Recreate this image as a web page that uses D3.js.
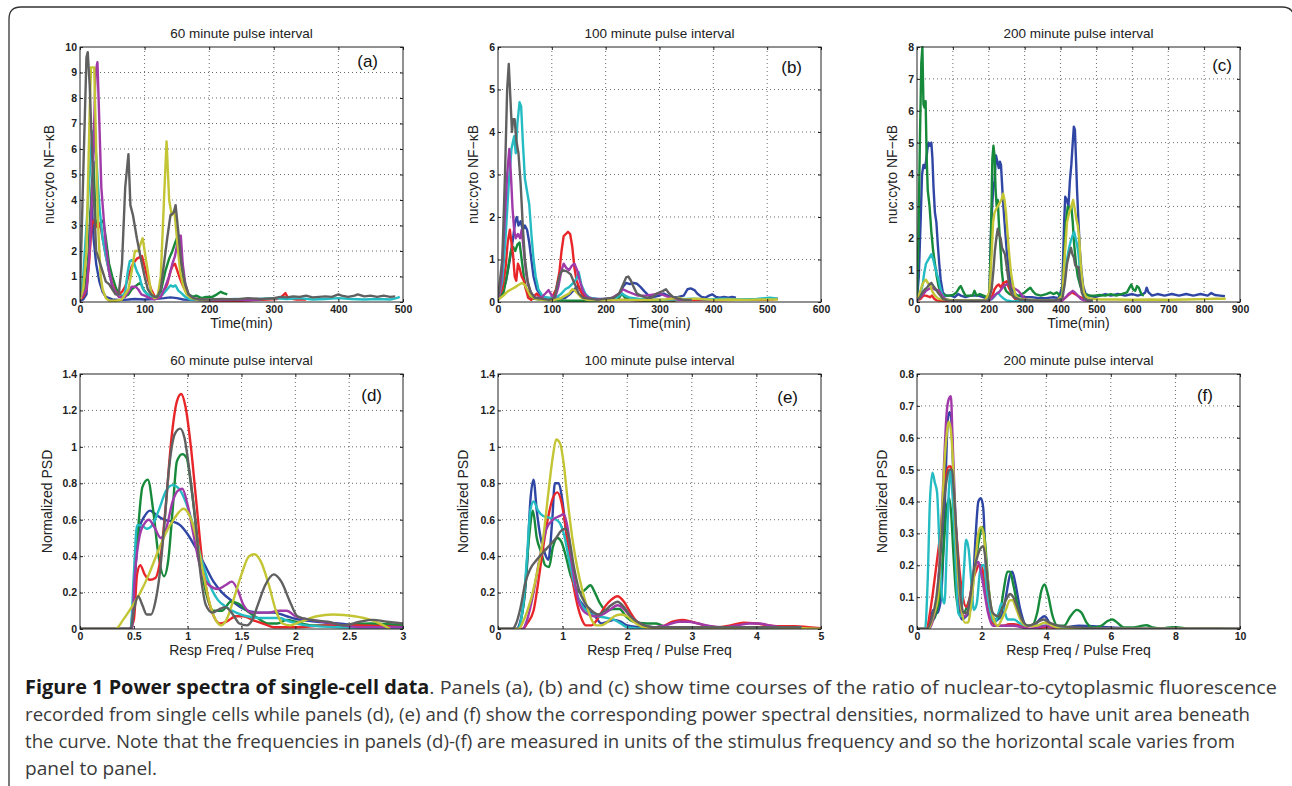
<!DOCTYPE html>
<html>
<head>
<meta charset="utf-8">
<script src="https://cdn.jsdelivr.net/npm/d3@7"></script>
<style>
  body { margin: 0; background: #fff; }
  svg { display: block; }
</style>
</head>
<body>
<svg id="fig" width="1292" height="786"></svg>
<script>
// ---- series colours (matlab-ish b g r c m y k) ----
const seriesKeys = ['b', 'g', 'r', 'c', 'm', 'y', 'k'];
const seriesColors = ['#3046a5', '#168a3a', '#e8262a', '#24bcc2', '#a03aa8', '#c3c534', '#606060'];

// ---- (a) 60 min pulse interval: [time(min), nuc:cyto] ----
const a_b = [[0,0.05],[5,0.1],[10,0.3],[13,1.5],[16,3.5],[18,3.8],[21,2.5],[25,1.5],[30,0.8],[35,0.4],[40,0.2],[50,0.1],[60,0.08],[75,0.1],[85,0.12],[100,0.1],[115,0.12],[130,0.15],[140,0.18],[150,0.15],[160,0.1],[180,0.08],[200,0.06],[220,0.05],[240,0.05]];
const a_g = [[0,0.1],[8,0.5],[14,2],[18,4.5],[21,5.5],[24,3.2],[28,3],[32,3.1],[36,3.2],[40,2.5],[45,1.5],[50,1],[55,0.6],[60,0.3],[68,0.2],[75,0.3],[80,0.5],[85,0.6],[90,0.7],[94,0.75],[98,0.5],[104,0.3],[110,0.2],[118,0.2],[125,0.4],[132,1.2],[138,1.7],[143,2],[147,2.3],[150,2.5],[153,2.6],[157,1.5],[162,0.6],[168,0.3],[175,0.2],[180,0.25],[188,0.15],[195,0.2],[205,0.2],[212,0.3],[218,0.4],[222,0.35],[228,0.3]];
const a_r = [[0,0.1],[5,0.2],[10,0.5],[14,1.5],[18,3],[21,3.2],[25,3],[28,2.9],[31,3.1],[35,2.5],[40,1.8],[45,1.2],[50,0.7],[55,0.4],[60,0.3],[65,0.4],[70,0.6],[75,1],[80,1.4],[85,1.6],[88,1.7],[92,1.75],[96,1.8],[100,1.4],[105,0.9],[110,0.5],[115,0.25],[120,0.15],[128,0.3],[135,0.7],[140,1.2],[143,1.4],[147,1.5],[151,1.2],[155,0.9],[160,0.6],[165,0.35],[170,0.2],[178,0.1],[190,0.08],[210,0.05],[230,0.05],[250,0.05],[270,0.08],[290,0.1],[305,0.12],[312,0.2],[318,0.35],[322,0.15],[335,0.1],[350,0.1]];
const a_c = [[0,0.1],[5,1],[10,3],[15,5],[19,6.7],[22,6],[25,5.8],[28,4.5],[31,3.5],[35,2.5],[40,1.8],[45,1.2],[50,0.6],[55,0.35],[60,0.25],[65,0.2],[70,0.4],[74,1.2],[77,1.6],[80,1.65],[84,1.5],[88,1.2],[92,1],[96,0.6],[100,0.4],[105,0.3],[112,0.2],[120,0.2],[128,0.3],[135,0.5],[140,0.65],[144,0.6],[148,0.65],[152,0.45],[157,0.35],[163,0.2],[170,0.1],[180,0.1],[200,0.08],[220,0.1],[240,0.12],[260,0.1],[280,0.12],[300,0.15],[320,0.12],[340,0.15],[360,0.1],[380,0.12],[400,0.15],[420,0.12],[440,0.1],[460,0.12],[480,0.1],[490,0.15],[495,0.2]];
const a_m = [[0,0.1],[10,0.5],[15,2],[20,5],[24,9],[27,9.4],[30,7],[33,4.5],[36,3.5],[40,2.2],[45,1.2],[50,0.6],[55,0.4],[60,0.2],[65,0.2],[70,0.2],[75,0.4],[80,0.6],[86,0.6],[90,0.5],[95,0.3],[100,0.25],[108,0.15],[115,0.1],[125,0.2],[132,0.6],[138,1],[143,1.5],[147,1.8],[150,2.2],[153,2.6],[156,2.6],[159,1.5],[163,0.7],[168,0.3],[175,0.15],[185,0.1],[200,0.1],[220,0.08],[240,0.1],[260,0.08],[280,0.1]];
const a_y = [[0,0.1],[5,0.5],[10,2],[15,7.5],[17,9.2],[22,9.2],[25,6],[28,3],[32,1],[35,0.5],[40,0.15],[45,0.05],[55,0.05],[65,0.1],[75,0.5],[80,1.2],[85,2],[90,2],[94,2.3],[97,2.5],[100,2],[105,1.2],[110,0.4],[115,0.15],[120,0.2],[125,1],[130,4],[134,6.3],[138,4],[142,3.4],[146,3.6],[150,2.5],[155,1.2],[160,0.6],[165,0.3],[172,0.15],[180,0.1],[190,0.08],[200,0.1]];
const a_k = [[0,0.2],[5,5],[10,9.6],[12,9.8],[15,8.5],[20,5],[25,2],[30,1.6],[35,1.2],[40,0.8],[45,0.7],[50,0.5],[55,0.3],[60,0.3],[65,1.5],[70,4.5],[75,5.8],[78,3.8],[82,3.4],[88,2.5],[95,1.6],[100,1],[105,0.5],[110,0.3],[115,0.2],[120,0.2],[125,0.5],[130,1.5],[135,2.5],[140,3.4],[145,3.5],[148,3.8],[152,2.8],[157,1.5],[162,0.8],[168,0.3],[175,0.15],[185,0.1],[200,0.1],[220,0.12],[240,0.1],[260,0.15],[280,0.12],[300,0.15],[310,0.2],[320,0.18],[330,0.22],[340,0.2],[350,0.25],[360,0.18],[370,0.2],[380,0.22],[390,0.2],[400,0.3],[405,0.25],[415,0.2],[425,0.25],[430,0.3],[440,0.22],[450,0.25],[460,0.2],[470,0.25],[480,0.2],[488,0.22]];

// ---- (b) 100 min pulse interval ----
const b_b = [[0,0.05],[8,0.2],[15,0.5],[22,1],[28,1.5],[32,1.9],[35,2],[38,1.8],[42,1.9],[46,1.7],[50,1.8],[54,1.7],[58,1.4],[62,1],[66,0.6],[72,0.3],[80,0.15],[90,0.1],[100,0.08],[115,0.08],[125,0.1],[135,0.2],[142,0.3],[148,0.38],[152,0.3],[158,0.2],[165,0.1],[180,0.08],[200,0.07],[215,0.1],[225,0.15],[232,0.35],[238,0.45],[245,0.42],[252,0.45],[258,0.43],[265,0.35],[272,0.25],[280,0.15],[290,0.12],[300,0.15],[308,0.2],[315,0.15],[325,0.1],[335,0.12],[345,0.15],[352,0.3],[358,0.32],[365,0.28],[370,0.2],[378,0.12],[385,0.1],[392,0.15],[398,0.18],[405,0.12],[412,0.1],[420,0.12],[428,0.1],[435,0.12],[442,0.1]];
const b_g = [[0,0.05],[10,0.2],[16,0.6],[20,0.9],[24,1.2],[28,1.3],[32,1.2],[36,1.35],[40,1.4],[44,1],[48,0.6],[52,0.3],[58,0.15],[65,0.08],[80,0.05],[100,0.04],[130,0.03],[160,0.03],[190,0.04],[215,0.05],[225,0.1],[230,0.2],[236,0.1],[245,0.05],[270,0.03],[300,0.03],[330,0.03]];
const b_r = [[0,0.1],[8,0.3],[14,0.8],[18,1.4],[22,1.7],[25,1.4],[28,1.1],[31,0.6],[34,0.5],[37,0.9],[40,0.8],[44,0.6],[48,0.5],[52,0.3],[56,0.1],[62,0.05],[68,0.15],[72,0.2],[78,0.1],[90,0.08],[100,0.1],[108,0.3],[114,0.7],[118,1.2],[122,1.55],[126,1.6],[130,1.65],[134,1.6],[138,1.3],[142,0.8],[146,0.5],[152,0.3],[158,0.15],[165,0.08],[180,0.05],[200,0.04],[230,0.05],[260,0.04],[290,0.05],[320,0.04],[360,0.05],[400,0.04],[440,0.05],[480,0.05],[510,0.06],[520,0.08]];
const b_c = [[0,0.05],[8,0.5],[14,1.5],[20,2.8],[25,3.6],[30,3.9],[33,3.5],[36,4.2],[40,4.7],[43,4.6],[46,3.8],[50,2.9],[54,2.6],[58,2.3],[62,1.6],[66,1],[70,0.6],[75,0.3],[82,0.15],[90,0.1],[100,0.1],[110,0.12],[118,0.2],[125,0.3],[132,0.35],[140,0.45],[146,0.55],[150,0.7],[155,0.4],[162,0.2],[170,0.1],[185,0.07],[200,0.06],[220,0.1],[230,0.2],[236,0.15],[245,0.1],[260,0.08],[280,0.06],[300,0.05],[330,0.06],[360,0.08],[390,0.06],[420,0.08],[450,0.06],[480,0.07],[505,0.1],[520,0.08]];
const b_m = [[0,0.05],[6,0.5],[12,1.8],[17,3],[21,3.6],[24,3],[27,2.2],[30,1.7],[33,1.5],[37,1.6],[41,1.5],[44,1.7],[48,1.2],[52,0.7],[56,0.4],[62,0.2],[70,0.1],[80,0.1],[88,0.2],[94,0.28],[100,0.15],[106,0.1],[112,0.35],[118,0.75],[122,0.9],[127,0.8],[132,0.75],[137,0.85],[142,0.9],[147,0.75],[152,0.5],[158,0.25],[165,0.12],[175,0.08],[190,0.06],[210,0.08],[225,0.2],[232,0.3],[240,0.25],[250,0.2],[260,0.15],[275,0.15],[290,0.18],[300,0.2],[310,0.15],[320,0.1],[335,0.06],[350,0.05]];
const b_y = [[0,0.05],[10,0.15],[18,0.25],[25,0.3],[32,0.35],[38,0.4],[45,0.45],[50,0.4],[54,0.3],[60,0.15],[68,0.08],[80,0.05],[100,0.04],[115,0.08],[125,0.15],[132,0.2],[138,0.3],[142,0.28],[148,0.2],[155,0.1],[165,0.05],[190,0.04],[220,0.05],[250,0.05],[280,0.05],[310,0.06],[335,0.1],[345,0.06],[370,0.08],[400,0.05],[430,0.06],[460,0.05],[490,0.06],[520,0.06]];
const b_k = [[0,0.1],[8,1],[13,3],[17,5],[20,5.6],[23,4.8],[26,4],[28,4.3],[31,4.3],[34,3.8],[38,3.5],[42,2.8],[46,1.8],[50,1],[55,0.5],[60,0.25],[68,0.1],[80,0.08],[95,0.05],[105,0.1],[110,0.4],[115,0.65],[120,0.75],[128,0.72],[135,0.65],[140,0.5],[145,0.35],[150,0.2],[158,0.1],[170,0.08],[185,0.05],[200,0.08],[215,0.1],[225,0.2],[232,0.4],[238,0.58],[242,0.6],[247,0.5],[252,0.35],[258,0.2],[265,0.15],[275,0.1],[285,0.1],[295,0.2],[305,0.25],[312,0.3],[318,0.2],[325,0.12],[335,0.08],[345,0.05],[360,0.05]];

// ---- (c) 200 min pulse interval ----
const c_b = [[0,0.1],[5,0.8],[10,2.5],[14,4],[18,4.3],[22,4.2],[25,4.4],[29,4.8],[32,5],[36,4.9],[40,5],[43,4.5],[46,3.6],[50,2.8],[54,2.5],[58,1.8],[62,1.2],[66,0.7],[72,0.3],[80,0.2],[95,0.2],[105,0.15],[115,0.25],[122,0.2],[135,0.15],[150,0.2],[170,0.2],[185,0.15],[195,0.12],[202,0.3],[207,2.5],[212,3.5],[216,3.8],[220,4.6],[224,4.4],[228,4.2],[231,4.4],[234,4.3],[238,3.5],[242,2.8],[246,2.2],[250,1.6],[256,1],[262,0.5],[270,0.3],[280,0.2],[300,0.15],[320,0.15],[340,0.12],[360,0.12],[380,0.15],[395,0.12],[405,0.5],[410,2.5],[413,3.3],[418,3.2],[422,3],[426,3.8],[430,4.3],[434,5],[437,5.5],[440,5.4],[443,4.5],[446,3.5],[450,2.5],[454,1.6],[458,1],[463,0.5],[470,0.25],[480,0.2],[495,0.15],[510,0.2],[525,0.25],[540,0.2],[560,0.25],[580,0.2],[600,0.25],[615,0.2],[630,0.25],[636,0.3],[640,0.45],[645,0.3],[655,0.2],[670,0.25],[690,0.2],[710,0.25],[730,0.2],[750,0.25],[770,0.2],[790,0.25],[810,0.2],[820,0.28],[830,0.22],[845,0.2],[858,0.18]];
const c_g = [[0,0.2],[4,2],[8,5],[12,7.5],[15,8],[18,6.2],[21,6.1],[24,6.3],[27,4.5],[30,3.5],[35,3],[40,2.2],[45,1.6],[50,1.2],[55,0.8],[60,0.5],[66,0.3],[72,0.25],[80,0.2],[90,0.2],[100,0.22],[110,0.3],[118,0.45],[122,0.5],[128,0.35],[135,0.2],[145,0.2],[155,0.2],[160,0.35],[166,0.2],[175,0.25],[185,0.2],[195,0.15],[202,0.2],[206,2],[210,4.5],[213,4.9],[216,4.6],[219,3.5],[222,3],[225,3.2],[228,2.5],[232,1.8],[236,1],[240,0.6],[248,0.35],[258,0.25],[270,0.2],[285,0.2],[300,0.3],[310,0.4],[316,0.45],[322,0.35],[330,0.25],[345,0.2],[360,0.25],[372,0.3],[380,0.25],[390,0.3],[398,0.2],[405,0.3],[410,1.2],[415,2.5],[420,3],[425,2.9],[430,3],[434,2.5],[438,1.8],[443,1.2],[448,0.8],[455,0.5],[462,0.3],[470,0.25],[480,0.2],[495,0.2],[510,0.22],[525,0.2],[540,0.25],[555,0.2],[570,0.25],[585,0.3],[592,0.45],[597,0.55],[602,0.4],[608,0.35],[613,0.5],[618,0.45],[625,0.25],[632,0.2]];
const c_r = [[0,0.05],[10,0.1],[18,0.2],[24,0.2],[30,0.18],[36,0.15],[42,0.2],[48,0.1],[55,0.05],[80,0.03],[150,0.03],[200,0.04],[210,0.2],[216,0.4],[222,0.5],[228,0.55],[234,0.45],[240,0.6],[246,0.62],[250,0.65],[254,0.5],[260,0.35],[266,0.2],[275,0.08],[290,0.04],[350,0.03],[405,0.05],[415,0.15],[425,0.25],[432,0.3],[440,0.25],[450,0.18],[460,0.12],[472,0.06],[490,0.02]];
const c_c = [[0,0.05],[8,0.2],[15,0.5],[20,0.9],[25,1.2],[30,1.3],[35,1.4],[40,1.5],[45,1.35],[50,1.1],[55,0.9],[60,0.7],[65,0.45],[70,0.25],[78,0.1],[90,0.06],[120,0.05],[160,0.05],[200,0.05],[210,0.1],[218,0.2],[225,0.3],[232,0.2],[240,0.12],[250,0.05],[265,0.02],[300,0.03],[350,0.03],[400,0.04],[410,0.5],[416,1.2],[422,1.6],[428,1.9],[434,2.1],[438,2.2],[442,2],[446,1.8],[450,1.5],[455,0.9],[460,0.4],[466,0.15],[475,0.05],[490,0.03]];
const c_m = [[0,0.05],[10,0.15],[18,0.25],[25,0.35],[32,0.4],[40,0.45],[48,0.4],[55,0.38],[62,0.35],[70,0.2],[78,0.1],[90,0.05],[150,0.03],[200,0.04],[212,0.15],[220,0.25],[228,0.3],[235,0.4],[242,0.5],[250,0.55],[256,0.6],[262,0.5],[268,0.45],[275,0.4],[282,0.35],[290,0.25],[298,0.12],[310,0.05],[360,0.03],[405,0.05],[415,0.15],[422,0.25],[428,0.3],[434,0.35],[440,0.3],[448,0.2],[456,0.1],[466,0.05],[485,0.03]];
const c_y = [[0,0.05],[8,0.3],[15,0.55],[20,0.65],[25,0.7],[30,0.6],[36,0.55],[42,0.35],[50,0.2],[60,0.1],[75,0.08],[100,0.06],[130,0.05],[160,0.05],[190,0.05],[202,0.3],[208,1.5],[212,2.5],[216,2.8],[220,2.9],[225,3],[230,3.1],[235,3.2],[240,3.4],[244,3.2],[248,2.8],[252,2.2],[256,1.6],[262,0.9],[268,0.5],[275,0.2],[285,0.1],[300,0.08],[330,0.06],[360,0.06],[390,0.06],[405,0.2],[412,1.5],[418,2.5],[424,2.8],[430,3],[435,3.2],[440,2.9],[444,2.6],[448,2.4],[452,2],[456,1.2],[460,0.7],[465,0.3],[472,0.15],[485,0.1],[510,0.08],[550,0.08],[600,0.07],[650,0.08],[700,0.07],[750,0.08],[800,0.09],[830,0.1],[860,0.1]];
const c_k = [[0,0.05],[8,0.15],[15,0.3],[22,0.4],[28,0.45],[34,0.55],[40,0.6],[46,0.5],[52,0.4],[58,0.3],[65,0.2],[72,0.1],[85,0.05],[120,0.04],[160,0.04],[200,0.05],[208,0.4],[213,1],[217,1.6],[221,2],[225,2.3],[229,2.1],[233,2],[237,1.7],[241,1.6],[245,1.5],[250,1.1],[256,0.6],[263,0.3],[270,0.15],[285,0.08],[320,0.05],[380,0.05],[405,0.1],[412,0.6],[418,1.2],[424,1.5],[429,1.7],[433,1.5],[437,1.4],[441,1.15],[445,1.1],[450,1.1],[454,0.7],[459,0.3],[466,0.12],[475,0.06],[490,0.05]];

// ---- (d) PSD, 60 min: [resp freq / pulse freq, normalized PSD] ----
const d_b = [[0,0],[0.48,0],[0.51,0.3],[0.55,0.55],[0.6,0.62],[0.65,0.65],[0.7,0.63],[0.78,0.6],[0.86,0.59],[0.93,0.57],[1,0.52],[1.08,0.44],[1.16,0.35],[1.24,0.26],[1.32,0.2],[1.42,0.15],[1.52,0.11],[1.65,0.09],[1.8,0.09],[1.92,0.07],[2.05,0.05],[2.2,0.04],[2.4,0.03],[2.6,0.02],[3,0.02]];
const d_g = [[0,0],[0.47,0],[0.5,0.2],[0.54,0.55],[0.58,0.78],[0.63,0.82],[0.68,0.65],[0.73,0.4],[0.78,0.29],[0.82,0.38],[0.86,0.65],[0.9,0.92],[0.95,0.96],[0.99,0.94],[1.04,0.75],[1.1,0.45],[1.17,0.2],[1.24,0.1],[1.32,0.1],[1.4,0.15],[1.47,0.14],[1.55,0.1],[1.65,0.06],[1.75,0.03],[1.83,0.03],[1.92,0.05],[2,0.04],[2.15,0.02],[2.4,0.02],[2.7,0.03],[3,0.02]];
const d_r = [[0,0],[0.45,0],[0.5,0.05],[0.53,0.3],[0.56,0.35],[0.6,0.3],[0.65,0.27],[0.7,0.28],[0.75,0.4],[0.8,0.7],[0.85,1.05],[0.9,1.25],[0.94,1.29],[0.98,1.22],[1.03,1],[1.08,0.7],[1.13,0.4],[1.18,0.2],[1.25,0.06],[1.3,0.03],[1.36,0.04],[1.45,0.07],[1.52,0.07],[1.6,0.05],[1.7,0.03],[1.8,0.01],[2,0.01],[2.3,0.02],[2.6,0.02],[3,0.01]];
const d_c = [[0,0],[0.47,0],[0.5,0.3],[0.53,0.57],[0.57,0.57],[0.62,0.55],[0.67,0.57],[0.73,0.65],[0.8,0.76],[0.86,0.79],[0.92,0.77],[0.98,0.7],[1.05,0.57],[1.12,0.4],[1.2,0.25],[1.28,0.16],[1.36,0.12],[1.45,0.09],[1.55,0.07],[1.7,0.06],[1.85,0.06],[1.95,0.04],[2.1,0.02],[2.4,0.01],[3,0]];
const d_m = [[0,0],[0.48,0],[0.51,0.3],[0.55,0.5],[0.6,0.58],[0.64,0.6],[0.69,0.56],[0.75,0.5],[0.8,0.55],[0.86,0.7],[0.91,0.76],[0.95,0.77],[1,0.68],[1.06,0.5],[1.12,0.33],[1.2,0.24],[1.28,0.22],[1.35,0.24],[1.41,0.26],[1.46,0.22],[1.52,0.13],[1.6,0.09],[1.75,0.09],[1.85,0.1],[1.92,0.1],[2,0.07],[2.15,0.05],[2.35,0.03],[2.6,0.01],[3,0.01]];
const d_y = [[0,0],[0.33,0],[0.4,0.05],[0.48,0.12],[0.56,0.2],[0.64,0.3],[0.72,0.42],[0.8,0.53],[0.88,0.61],[0.96,0.66],[1.02,0.62],[1.08,0.5],[1.14,0.32],[1.2,0.15],[1.26,0.05],[1.31,0.02],[1.36,0.05],[1.42,0.15],[1.5,0.3],[1.57,0.4],[1.62,0.41],[1.68,0.37],[1.75,0.25],[1.82,0.1],[1.88,0.03],[1.95,0.02],[2.05,0.04],[2.2,0.07],[2.35,0.08],[2.55,0.07],[2.7,0.05],[2.82,0.02],[2.88,0]];
const d_k = [[0,0],[0.47,0],[0.5,0.1],[0.54,0.18],[0.58,0.13],[0.62,0.08],[0.66,0.08],[0.7,0.15],[0.74,0.3],[0.78,0.55],[0.83,0.9],[0.88,1.07],[0.93,1.1],[0.97,1.05],[1.02,0.85],[1.07,0.6],[1.12,0.3],[1.17,0.13],[1.23,0.09],[1.3,0.11],[1.35,0.12],[1.42,0.08],[1.48,0.03],[1.55,0.02],[1.6,0.05],[1.65,0.13],[1.72,0.24],[1.8,0.3],[1.87,0.26],[1.95,0.15],[2.02,0.07],[2.15,0.05],[2.3,0.04],[2.45,0.02],[2.6,0.04],[2.72,0.05],[2.85,0.04],[3,0.03]];

// ---- (e) PSD, 100 min ----
const e_b = [[0,0],[0.28,0],[0.38,0.1],[0.45,0.35],[0.5,0.7],[0.55,0.82],[0.6,0.65],[0.66,0.5],[0.72,0.42],[0.78,0.38],[0.84,0.6],[0.88,0.8],[0.94,0.8],[0.99,0.72],[1.05,0.55],[1.12,0.35],[1.2,0.2],[1.3,0.14],[1.4,0.1],[1.5,0.07],[1.6,0.03],[1.7,0.04],[1.8,0.05],[1.9,0.04],[2,0.02],[2.2,0.01],[2.6,0],[3,0]];
const e_g = [[0,0],[0.3,0],[0.4,0.15],[0.48,0.5],[0.54,0.65],[0.6,0.5],[0.67,0.42],[0.73,0.35],[0.79,0.34],[0.85,0.45],[0.92,0.5],[0.98,0.48],[1.05,0.4],[1.12,0.3],[1.2,0.23],[1.28,0.2],[1.36,0.22],[1.43,0.24],[1.5,0.2],[1.58,0.14],[1.68,0.1],[1.78,0.11],[1.88,0.11],[1.98,0.07],[2.1,0.04],[2.3,0.03],[2.45,0.03],[2.6,0.01],[3,0],[4,0],[5,0]];
const e_r = [[0,0],[0.38,0],[0.45,0.03],[0.55,0.1],[0.62,0.25],[0.7,0.45],[0.78,0.62],[0.85,0.72],[0.92,0.75],[0.98,0.7],[1.05,0.55],[1.12,0.35],[1.2,0.18],[1.28,0.07],[1.36,0.02],[1.45,0.02],[1.55,0.06],[1.65,0.12],[1.75,0.16],[1.85,0.18],[1.95,0.15],[2.05,0.09],[2.15,0.04],[2.3,0.01],[2.5,0.01],[2.7,0.04],[2.85,0.05],[3,0.04],[3.2,0.02],[3.4,0.01],[3.6,0.02],[3.8,0.035],[4,0.03],[4.2,0.02],[4.4,0.015],[4.6,0.015],[4.8,0.01],[5,0.005]];
const e_c = [[0,0],[0.3,0],[0.38,0.1],[0.45,0.4],[0.5,0.65],[0.55,0.7],[0.62,0.65],[0.7,0.62],[0.8,0.61],[0.9,0.6],[0.96,0.58],[1.02,0.52],[1.1,0.38],[1.18,0.25],[1.28,0.14],[1.4,0.09],[1.55,0.07],[1.7,0.06],[1.8,0.05],[1.9,0.03],[2,0.01],[2.3,0],[5,0]];
const e_m = [[0,0],[0.38,0],[0.45,0.05],[0.55,0.2],[0.65,0.4],[0.75,0.55],[0.85,0.6],[0.95,0.62],[1.02,0.63],[1.08,0.55],[1.15,0.35],[1.25,0.15],[1.35,0.09],[1.5,0.07],[1.62,0.08],[1.75,0.11],[1.85,0.13],[1.95,0.11],[2.05,0.07],[2.2,0.03],[2.4,0.01],[2.6,0.02],[2.8,0.04],[2.95,0.04],[3.1,0.03],[3.3,0.015],[3.5,0.01],[3.7,0.02],[3.9,0.03],[4.05,0.03],[4.2,0.02],[4.4,0.01],[4.7,0.01]];
const e_y = [[0,0],[0.32,0],[0.4,0.05],[0.5,0.15],[0.6,0.3],[0.7,0.5],[0.78,0.75],[0.85,0.95],[0.9,1.04],[0.96,1.02],[1.02,0.9],[1.08,0.7],[1.15,0.5],[1.22,0.35],[1.3,0.22],[1.38,0.12],[1.45,0.05],[1.52,0.02],[1.6,0.02],[1.7,0.04],[1.8,0.07],[1.9,0.08],[2,0.07],[2.1,0.04],[2.25,0.01],[2.5,0],[3,0.01],[3.5,0],[4,0.01],[5,0]];
const e_k = [[0,0],[0.22,0],[0.28,0.03],[0.35,0.12],[0.42,0.25],[0.5,0.33],[0.6,0.38],[0.7,0.42],[0.8,0.46],[0.9,0.5],[0.98,0.54],[1.05,0.55],[1.1,0.5],[1.17,0.35],[1.25,0.22],[1.35,0.14],[1.45,0.1],[1.55,0.08],[1.65,0.1],[1.75,0.13],[1.85,0.15],[1.95,0.12],[2.05,0.07],[2.2,0.03],[2.4,0.01],[2.8,0.01],[3.5,0.01],[4.2,0.01],[4.7,0.01]];

// ---- (f) PSD, 200 min ----
const f_b = [[0,0],[0.28,0],[0.4,0.02],[0.5,0.06],[0.62,0.05],[0.72,0.08],[0.8,0.2],[0.88,0.45],[0.95,0.65],[1,0.68],[1.05,0.67],[1.12,0.5],[1.2,0.25],[1.3,0.06],[1.4,0.03],[1.52,0.04],[1.62,0.05],[1.72,0.12],[1.82,0.3],[1.9,0.4],[1.98,0.41],[2.05,0.38],[2.12,0.22],[2.22,0.08],[2.35,0.02],[2.5,0.03],[2.62,0.04],[2.75,0.1],[2.88,0.17],[2.95,0.18],[3.05,0.14],[3.2,0.06],[3.4,0.01],[3.6,0.01],[3.8,0.03],[3.95,0.04],[4.1,0.02],[4.3,0],[5,0.01],[6,0.005],[7,0],[10,0]];
const f_g = [[0,0],[0.32,0],[0.45,0.02],[0.6,0.05],[0.72,0.12],[0.82,0.25],[0.92,0.38],[1,0.41],[1.06,0.36],[1.12,0.25],[1.2,0.12],[1.3,0.06],[1.42,0.05],[1.55,0.07],[1.68,0.12],[1.8,0.2],[1.92,0.28],[2.02,0.32],[2.1,0.28],[2.2,0.15],[2.3,0.06],[2.42,0.03],[2.55,0.04],[2.68,0.12],[2.8,0.18],[2.88,0.18],[2.98,0.14],[3.1,0.08],[3.22,0.03],[3.38,0.01],[3.55,0.01],[3.72,0.05],[3.85,0.12],[3.95,0.14],[4.05,0.11],[4.2,0.04],[4.35,0.01],[4.55,0.01],[4.75,0.04],[4.95,0.06],[5.1,0.05],[5.25,0.02],[5.45,0.005],[5.7,0.01],[5.9,0.025],[6.05,0.03],[6.2,0.02],[6.4,0.005],[6.7,0.005],[6.95,0.01],[7.1,0.012],[7.3,0.005],[7.6,0.002],[7.9,0.006],[8.1,0.005],[8.4,0.001],[9,0.002],[9.5,0.001],[10,0]];
const f_r = [[0,0],[0.3,0],[0.4,0.05],[0.5,0.12],[0.6,0.2],[0.7,0.28],[0.8,0.38],[0.9,0.48],[0.98,0.51],[1.05,0.51],[1.12,0.42],[1.22,0.3],[1.32,0.18],[1.42,0.1],[1.52,0.07],[1.62,0.09],[1.72,0.15],[1.82,0.18],[1.92,0.2],[2,0.2],[2.08,0.15],[2.18,0.08],[2.3,0.03],[2.45,0.01],[2.65,0.01],[2.85,0.015],[3,0.015],[3.2,0.01],[3.5,0],[4,0.005],[5,0],[10,0]];
const f_c = [[0,0],[0.25,0],[0.33,0.15],[0.4,0.4],[0.48,0.49],[0.55,0.46],[0.62,0.43],[0.7,0.25],[0.78,0.1],[0.85,0.08],[0.92,0.25],[0.98,0.42],[1.04,0.5],[1.1,0.42],[1.18,0.25],[1.28,0.05],[1.36,0.04],[1.45,0.18],[1.52,0.28],[1.6,0.25],[1.68,0.15],[1.76,0.06],[1.85,0.08],[1.95,0.18],[2.02,0.2],[2.08,0.2],[2.16,0.12],[2.28,0.05],[2.4,0.02],[2.52,0.05],[2.62,0.08],[2.7,0.06],[2.8,0.03],[2.9,0.03],[3,0.03],[3.15,0.02],[3.4,0.01],[4,0.01],[5,0],[10,0]];
const f_m = [[0,0],[0.35,0],[0.5,0.03],[0.62,0.1],[0.72,0.25],[0.82,0.48],[0.92,0.68],[0.98,0.72],[1.05,0.73],[1.1,0.6],[1.18,0.38],[1.28,0.15],[1.38,0.05],[1.48,0.04],[1.58,0.06],[1.7,0.13],[1.82,0.2],[1.9,0.21],[1.98,0.18],[2.08,0.12],[2.2,0.05],[2.35,0.01],[2.6,0.01],[3,0.01],[3.5,0],[4,0.01],[4.5,0],[10,0]];
const f_y = [[0,0],[0.35,0],[0.5,0.04],[0.65,0.1],[0.75,0.3],[0.85,0.52],[0.93,0.62],[0.98,0.65],[1.04,0.63],[1.1,0.55],[1.18,0.35],[1.28,0.15],[1.38,0.06],[1.48,0.02],[1.58,0.02],[1.7,0.1],[1.8,0.2],[1.9,0.3],[1.98,0.32],[2.06,0.3],[2.15,0.2],[2.25,0.1],[2.38,0.03],[2.5,0.01],[2.62,0.03],[2.75,0.06],[2.88,0.09],[2.96,0.09],[3.05,0.07],[3.2,0.03],[3.4,0.01],[3.7,0.01],[3.95,0.02],[4.2,0.01],[4.5,0],[10,0]];
const f_k = [[0,0],[0.3,0],[0.45,0.03],[0.6,0.1],[0.72,0.22],[0.82,0.38],[0.92,0.47],[1,0.5],[1.08,0.5],[1.15,0.42],[1.25,0.25],[1.35,0.1],[1.45,0.05],[1.55,0.05],[1.65,0.1],[1.75,0.18],[1.85,0.22],[1.95,0.25],[2.05,0.26],[2.12,0.22],[2.22,0.12],[2.35,0.05],[2.5,0.04],[2.62,0.06],[2.75,0.09],[2.88,0.11],[2.98,0.1],[3.1,0.07],[3.25,0.03],[3.45,0.01],[3.7,0.02],[3.92,0.03],[4.1,0.02],[4.4,0.01],[5,0.005],[6,0],[10,0]];

// ---- axis ticks ----
const ticksA_x = [0, 100, 200, 300, 400, 500];
const ticksA_y = [0, 1, 2, 3, 4, 5, 6, 7, 8, 9, 10];
const ticksB_x = [0, 100, 200, 300, 400, 500, 600];
const ticksB_y = [0, 1, 2, 3, 4, 5, 6];
const ticksC_x = [0, 100, 200, 300, 400, 500, 600, 700, 800, 900];
const ticksC_y = [0, 1, 2, 3, 4, 5, 6, 7, 8];
const ticksD_x = [0, 0.5, 1, 1.5, 2, 2.5, 3];
const ticksD_y = [0, 0.2, 0.4, 0.6, 0.8, 1, 1.2, 1.4];
const ticksE_x = [0, 1, 2, 3, 4, 5];
const ticksE_y = [0, 0.2, 0.4, 0.6, 0.8, 1, 1.2, 1.4];
const ticksF_x = [0, 2, 4, 6, 8, 10];
const ticksF_y = [0, 0.1, 0.2, 0.3, 0.4, 0.5, 0.6, 0.7, 0.8];

const titles = ['60 minute pulse interval', '100 minute pulse interval', '200 minute pulse interval'];

// ---- panel layout ----
const panels = [
  { tag: '(a)', title: titles[0], series: [a_b, a_g, a_r, a_c, a_m, a_y, a_k], xt: ticksA_x, yt: ticksA_y, smooth: false,
    box: [80, 47, 403, 302], xlab: 'Time(min)', ylab: 'nuc:cyto NF\u2212\u03baB', ylabOff: 26, tagPos: [378, 67] },
  { tag: '(b)', title: titles[1], series: [b_b, b_g, b_r, b_c, b_m, b_y, b_k], xt: ticksB_x, yt: ticksB_y, smooth: false,
    box: [498, 47, 821, 302], xlab: 'Time(min)', ylab: 'nuc:cyto NF\u2212\u03baB', ylabOff: 20, tagPos: [802, 73] },
  { tag: '(c)', title: titles[2], series: [c_b, c_g, c_r, c_c, c_m, c_y, c_k], xt: ticksC_x, yt: ticksC_y, smooth: false,
    box: [917, 47, 1240, 302], xlab: 'Time(min)', ylab: 'nuc:cyto NF\u2212\u03baB', ylabOff: 20, tagPos: [1232, 71] },
  { tag: '(d)', title: titles[0], series: [d_b, d_g, d_r, d_c, d_m, d_y, d_k], xt: ticksD_x, yt: ticksD_y, smooth: true,
    box: [80, 374, 403, 629], xlab: 'Resp Freq / Pulse Freq', ylab: 'Normalized PSD', ylabOff: 28, tagPos: [382, 401] },
  { tag: '(e)', title: titles[1], series: [e_b, e_g, e_r, e_c, e_m, e_y, e_k], xt: ticksE_x, yt: ticksE_y, smooth: true,
    box: [498, 374, 821, 629], xlab: 'Resp Freq / Pulse Freq', ylab: 'Normalized PSD', ylabOff: 30, tagPos: [798, 403] },
  { tag: '(f)', title: titles[2], series: [f_b, f_g, f_r, f_c, f_m, f_y, f_k], xt: ticksF_x, yt: ticksF_y, smooth: true,
    box: [917, 374, 1240, 629], xlab: 'Resp Freq / Pulse Freq', ylab: 'Normalized PSD', ylabOff: 30, tagPos: [1213, 401] }
];

const svg = d3.select('#fig');
const sans = "'Liberation Sans', Arial, Helvetica, sans-serif";
const fmt = d => String(+d.toFixed(2));

// frame round the figure
svg.append('path')
  .attr('d', 'M9,786 L9,19 Q9,7 21,7 L1282,7 Q1294,7 1294,19 L1294,786')
  .attr('fill', 'none')
  .attr('stroke', '#333')
  .attr('stroke-width', 1.3);

panels.forEach((p, pi) => {
  const [x0, y0, x1, y1] = p.box;
  const x = d3.scaleLinear().domain([p.xt[0], p.xt[p.xt.length - 1]]).range([x0, x1]);
  const y = d3.scaleLinear().domain([p.yt[0], p.yt[p.yt.length - 1]]).range([y1, y0]);
  const g = svg.append('g');

  // dotted grid
  g.append('g')
    .selectAll('line')
    .data(p.xt.slice(1, -1))
    .join('line')
    .attr('x1', d => x(d)).attr('x2', d => x(d))
    .attr('y1', y0).attr('y2', y1)
    .attr('stroke', '#444').attr('stroke-width', 0.8)
    .attr('stroke-dasharray', '1,3');
  g.append('g')
    .selectAll('line')
    .data(p.yt.slice(1, -1))
    .join('line')
    .attr('x1', x0).attr('x2', x1)
    .attr('y1', d => y(d)).attr('y2', d => y(d))
    .attr('stroke', '#444').attr('stroke-width', 0.8)
    .attr('stroke-dasharray', '1,3');

  // curves
  const clipId = 'clip' + pi;
  g.append('clipPath').attr('id', clipId)
    .append('rect').attr('x', x0).attr('y', y0 - 1).attr('width', x1 - x0).attr('height', y1 - y0 + 1);
  const line = d3.line()
    .x(d => x(d[0]))
    .y(d => y(d[1]))
    .curve(p.smooth ? d3.curveMonotoneX : d3.curveLinear);
  g.append('g')
    .attr('clip-path', `url(#${clipId})`)
    .selectAll('path')
    .data(p.series)
    .join('path')
    .attr('d', line)
    .attr('fill', 'none')
    .attr('stroke', (d, i) => seriesColors[i])
    .attr('stroke-width', 2.4)
    .attr('stroke-linejoin', 'round');

  // axes (matlab box, inward ticks)
  const ax = (gen, tx) => {
    const a = g.append('g').attr('transform', tx).call(gen);
    a.select('.domain').remove();
    a.selectAll('.tick line').attr('stroke', '#222');
    a.selectAll('text')
      .attr('font-family', sans)
      .attr('font-weight', 'bold')
      .attr('font-size', 10.5)
      .attr('fill', '#222');
    return a;
  };
  ax(d3.axisBottom(x).tickValues(p.xt).tickFormat(fmt).tickSize(-3).tickPadding(4), `translate(0,${y1})`);
  ax(d3.axisLeft(y).tickValues(p.yt).tickFormat(fmt).tickSize(-3).tickPadding(3), `translate(${x0},0)`);
  ax(d3.axisTop(x).tickValues(p.xt).tickFormat('').tickSize(-3), `translate(0,${y0})`);
  ax(d3.axisRight(y).tickValues(p.yt).tickFormat('').tickSize(-3), `translate(${x1},0)`);

  g.append('rect')
    .attr('x', x0).attr('y', y0)
    .attr('width', x1 - x0).attr('height', y1 - y0)
    .attr('fill', 'none')
    .attr('stroke', '#222')
    .attr('stroke-width', 1);

  // texts
  g.append('text')
    .attr('x', (x0 + x1) / 2).attr('y', y0 - 9)
    .attr('text-anchor', 'middle')
    .attr('font-family', sans).attr('font-size', 13.5)
    .attr('fill', '#222')
    .text(p.title);
  g.append('text')
    .attr('x', (x0 + x1) / 2).attr('y', y1 + 26)
    .attr('text-anchor', 'middle')
    .attr('font-family', sans).attr('font-size', 14)
    .attr('fill', '#222')
    .text(p.xlab);
  g.append('text')
    .attr('transform', `translate(${x0 - p.ylabOff},${(y0 + y1) / 2}) rotate(-90)`)
    .attr('text-anchor', 'middle')
    .attr('font-family', sans).attr('font-size', 14)
    .attr('fill', '#222')
    .text(p.ylab);
  g.append('text')
    .attr('x', p.tagPos[0]).attr('y', p.tagPos[1])
    .attr('text-anchor', 'end')
    .attr('font-family', sans).attr('font-size', 17)
    .attr('fill', '#111')
    .text(p.tag);
});

// caption, squeezed to the reference line widths
const capFont = "'Open Sans', 'Noto Sans', sans-serif";
const capLines = [
  ['Figure 1 Power spectra of single-cell data', '. Panels (a), (b) and (c) show time courses of the ratio of nuclear-to-cytoplasmic fluorescence'],
  ['', 'recorded from single cells while panels (d), (e) and (f) show the corresponding power spectral densities, normalized to have unit area beneath'],
  ['', 'the curve. Note that the frequencies in panels (d)-(f) are measured in units of the stimulus frequency and so the horizontal scale varies from'],
  ['', 'panel to panel.']
];
const capWidths = [1252, 1225, 1210, null];
const capBase = [694, 721, 748, 775];
let ratios = [];
capLines.forEach((ln, i) => {
  const t = svg.append('text')
    .attr('x', 25).attr('y', capBase[i])
    .attr('font-family', capFont)
    .attr('font-size', 19)
    .attr('fill', '#3a3a3a');
  if (ln[0]) t.append('tspan').attr('font-weight', 'bold').attr('fill', '#1a1a1a').text(ln[0]);
  t.append('tspan').text(ln[1]);
  const natural = t.node().getComputedTextLength();
  let w = capWidths[i];
  if (w) ratios.push(w / natural);
  else w = natural * d3.mean(ratios);
  t.attr('textLength', w).attr('lengthAdjust', 'spacingAndGlyphs');
});
</script>
</body>
</html>
